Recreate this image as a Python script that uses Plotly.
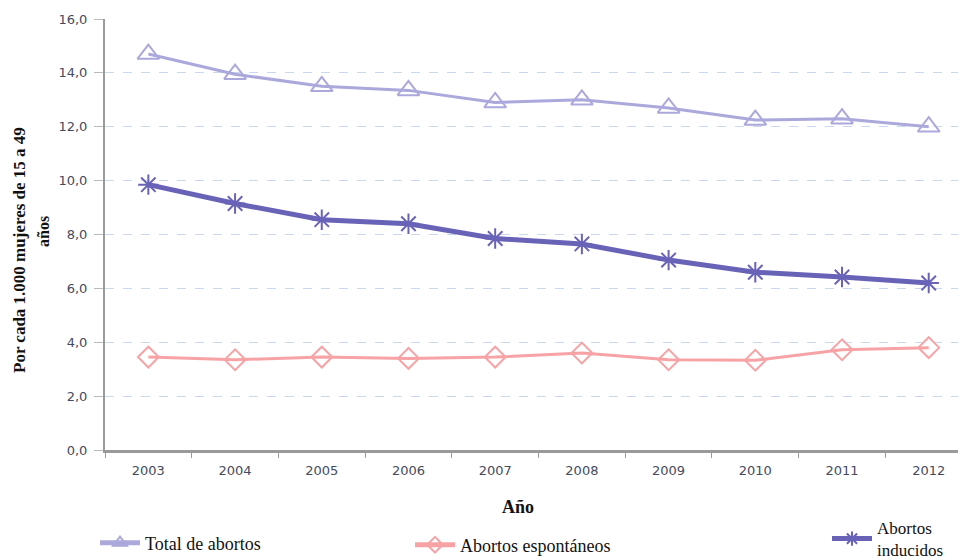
import plotly.graph_objects as go

years = ["2003", "2004", "2005", "2006", "2007", "2008", "2009", "2010", "2011", "2012"]
total = [14.7, 13.95, 13.5, 13.35, 12.9, 13.0, 12.7, 12.25, 12.3, 12.0]
espontaneos = [3.45, 3.35, 3.45, 3.4, 3.45, 3.6, 3.35, 3.33, 3.72, 3.8]
inducidos = [9.85, 9.15, 8.55, 8.4, 7.85, 7.65, 7.05, 6.6, 6.42, 6.2]
y_ticks = [0, 2, 4, 6, 8, 10, 12, 14, 16]
y_tick_text = ["0,0", "2,0", "4,0", "6,0", "8,0", "10,0", "12,0", "14,0", "16,0"]

serif = "Liberation Serif, Times New Roman, serif"
sans = "DejaVu Sans, Verdana, sans-serif"

fig = go.Figure()
fig.add_trace(go.Scatter(
    x=years, y=total, name="Total de abortos", mode="lines+markers",
    line=dict(color="#ABA8DC", width=3),
    marker=dict(symbol="triangle-up-open", size=19, color="#ABA8DC", line=dict(width=2)),
    legend="legend"))
fig.add_trace(go.Scatter(
    x=years, y=espontaneos, name="Abortos espontáneos", mode="lines+markers",
    line=dict(color="#F7A3A6", width=3),
    marker=dict(symbol="diamond-open", size=16, color="#F7A3A6", line=dict(width=2)),
    legend="legend2"))
fig.add_trace(go.Scatter(
    x=years, y=inducidos, name="Abortos<br>inducidos", mode="lines+markers",
    line=dict(color="#6963B8", width=5),
    marker=dict(symbol="asterisk-open", size=17, color="#6963B8", line=dict(width=2, color="#6963B8")),
    legend="legend3"))

# page body has an 8px margin: container coords are offset by 8px
legend_common = dict(font=dict(family=serif, size=18, color="#111"), bgcolor="rgba(0,0,0,0)",
                     xref="container", yref="container", yanchor="middle", xanchor="left",
                     itemwidth=40, itemsizing="constant")

def px_x(p):
    return (p - 105) / 861

def px_y(p):
    return (450 - p) / 431

fig.update_layout(
    width=966, height=560,
    margin=dict(l=97, r=8, t=11, b=118, autoexpand=False),
    paper_bgcolor="white", plot_bgcolor="white",
    showlegend=True,
    legend=dict(x=87/966, y=1 - 535/560, **legend_common),
    legend2=dict(x=402/966, y=1 - 537/560, **legend_common),
    legend3=dict(x=819/966, y=1 - 531/560, tracegroupgap=0,
                 **{**legend_common, "font": dict(family=serif, size=17, color="#111")}),
    xaxis=dict(
        type="category", range=[-0.5, 9.43],
        showgrid=False, showline=True, linecolor="#9A9A9A", linewidth=3,
        ticks="outside", tickson="boundaries", ticklen=5, tickcolor="#9A9A9A",
        tickfont=dict(family=sans, size=13, color="#454B5E"),
        zeroline=False, tickangle=0, ticklabelstandoff=6,
    ),
    yaxis=dict(
        range=[0, 16], tickvals=y_ticks, ticktext=y_tick_text,
        showgrid=True, gridcolor="#C9D8EC", griddash="dash", gridwidth=1,
        showline=True, linecolor="#9A9A9A", linewidth=2,
        ticks="outside", ticklen=9, tickcolor="#BBBBBB",
        tickfont=dict(family=sans, size=13, color="#454B5E"),
        zeroline=False, ticklabelstandoff=4,
    ),
    annotations=[
        dict(text="<b>Por cada 1.000 mujeres de 15 a 49</b>", textangle=-90,
             xref="paper", yref="paper", x=px_x(19), y=px_y(250), xanchor="center", yanchor="middle",
             showarrow=False, font=dict(family=serif, size=17, color="#111")),
        dict(text="<b>años</b>", textangle=-90,
             xref="paper", yref="paper", x=px_x(43), y=px_y(231), xanchor="center", yanchor="middle",
             showarrow=False, font=dict(family=serif, size=16, color="#111")),
        dict(text="<b>Año</b>", xref="paper", yref="paper",
             x=px_x(518), y=px_y(507), xanchor="center", yanchor="middle",
             showarrow=False, font=dict(family=serif, size=18, color="#111")),
    ],
)

fig.write_html("out.html")
